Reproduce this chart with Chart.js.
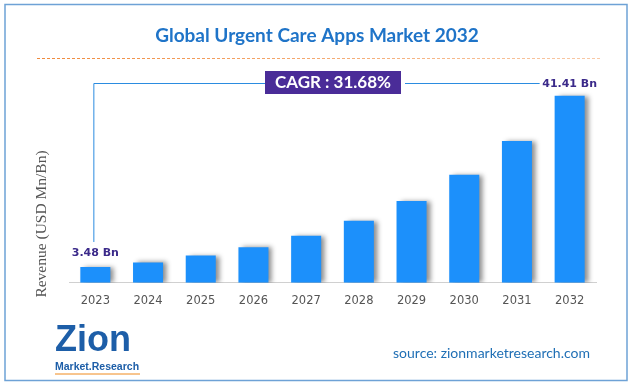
<!DOCTYPE html>
<html>
<head>
<meta charset="utf-8">
<script src="https://cdn.jsdelivr.net/npm/chart.js@4.4.1/dist/chart.umd.min.js"></script>
<style>
  body { margin: 0; background: #fff; }
  #wrap { width: 634px; height: 387px; position: relative; }
</style>
</head>
<body>
<div id="wrap"><canvas id="myChart" width="634" height="387"></canvas></div>
<script>
const years = ['2023', '2024', '2025', '2026', '2027', '2028', '2029', '2030', '2031', '2032'];
const revenue = [3.48, 4.5, 6.0, 7.85, 10.4, 13.7, 18.1, 23.9, 31.4, 41.41];
const valueLabels = ['3.48 Bn', '', '', '', '', '', '', '', '', '41.41 Bn'];
const titleText = 'Global Urgent Care Apps Market 2032';
const cagrText = 'CAGR : 31.68%';
const axisTitle = 'Revenue (USD Mn/Bn)';
const sourceText = 'source: zionmarketresearch.com';

// shadow on the right of every bar
const barShadow = {
    id: 'barShadow',
    beforeDatasetsDraw(chart) {
        const ctx = chart.ctx;
        ctx.save();
        ctx.shadowColor = 'rgba(0,0,0,0.45)';
        ctx.shadowOffsetX = 4;
        ctx.shadowOffsetY = 0;
        ctx.shadowBlur = 5;
    },
    afterDatasetsDraw(chart) {
        chart.ctx.restore();
    }
};

const decorations = {
    id: 'decorations',
    afterDraw(chart) {
        const ctx = chart.ctx;
        const meta = chart.getDatasetMeta(0);
        ctx.save();

        // frame
        ctx.strokeStyle = '#6ea2d6';
        ctx.lineWidth = 1.5;
        ctx.strokeRect(5, 4.5, 622, 376);

        // title
        ctx.fillStyle = '#1f74c8';
        ctx.font = 'bold 19px Lato';
        ctx.textAlign = 'center';
        ctx.textBaseline = 'middle';
        ctx.fillText(titleText, 317, 36);

        // dashed line under the title
        const grad = ctx.createLinearGradient(37, 0, 600, 0);
        grad.addColorStop(0, '#f08a3c');
        grad.addColorStop(1, '#f9c9a6');
        ctx.strokeStyle = grad;
        ctx.lineWidth = 1;
        ctx.setLineDash([3, 2]);
        ctx.beginPath();
        ctx.moveTo(37, 58.5);
        ctx.lineTo(600, 58.5);
        ctx.stroke();
        ctx.setLineDash([]);

        // value labels
        ctx.font = 'bold 11px "DejaVu Sans"';
        ctx.fillStyle = '#3b2a8a';
        meta.data.forEach((bar, i) => {
            if (valueLabels[i]) {
                const ly = i === 0 ? bar.y - 14 : 84;
                ctx.fillText(valueLabels[i], bar.x, ly);
            }
        });

        // leader lines
        const first = meta.data[0];
        const last = meta.data[meta.data.length - 1];
        ctx.strokeStyle = '#2b8ce0';
        ctx.lineWidth = 1;
        ctx.beginPath();
        ctx.moveTo(first.x - 1.5, first.y - 25);
        ctx.lineTo(first.x - 1.5, 83.5);
        ctx.lineTo(265, 83.5);
        ctx.moveTo(405, 83.5);
        ctx.lineTo(last.x - 30, 83.5);
        ctx.stroke();

        // CAGR box
        ctx.fillStyle = '#4a2c98';
        ctx.fillRect(265, 71, 136, 23);
        ctx.fillStyle = '#ffffff';
        ctx.font = 'bold 17px Lato';
        ctx.fillText(cagrText, 333, 83);

        // y axis title
        ctx.save();
        ctx.translate(42, 224);
        ctx.rotate(-Math.PI / 2);
        ctx.fillStyle = '#555555';
        ctx.font = '15.5px "Liberation Serif"';
        ctx.fillText(axisTitle, 0, 0);
        ctx.restore();

        // logo
        ctx.textAlign = 'left';
        ctx.fillStyle = '#1d5ea8';
        ctx.font = 'bold 36px "Liberation Sans"';
        ctx.fillText('Zion', 55, 341);
        ctx.fillStyle = '#1d5ea8';
        ctx.font = 'bold 10.5px "Liberation Sans"';
        ctx.fillText('Market.Research', 55, 367);
        ctx.strokeStyle = '#f08a1c';
        ctx.beginPath();
        ctx.moveTo(55, 374);
        ctx.lineTo(140, 374);
        ctx.stroke();

        // source
        ctx.textAlign = 'right';
        ctx.fillStyle = '#1f6fb5';
        ctx.font = '14px Lato';
        ctx.fillText(sourceText, 590, 353);

        ctx.restore();
    }
};

const ctx = document.getElementById('myChart');
const myChart = new Chart(ctx, {
    type: 'bar',
    data: {
        labels: years,
        datasets: [{
            data: revenue,
            backgroundColor: '#1c90fb',
            barPercentage: 0.57,
            categoryPercentage: 1
        }]
    },
    options: {
        responsive: false,
        animation: false,
        layout: {
            padding: { left: 69, right: 38, top: 57, bottom: 0 }
        },
        scales: {
            y: {
                display: false,
                min: 0,
                max: 50
            },
            x: {
                grid: { display: false },
                border: { display: true, color: '#d0d0d0', width: 1 },
                ticks: {
                    color: '#555555',
                    font: { family: 'DejaVu Sans', size: 11.5 },
                    padding: 3
                },
                afterFit(scale) {
                    scale.height = 104.3;
                }
            }
        },
        plugins: {
            legend: { display: false },
            tooltip: { enabled: false }
        }
    },
    plugins: [barShadow, decorations]
});
</script>
</body>
</html>
